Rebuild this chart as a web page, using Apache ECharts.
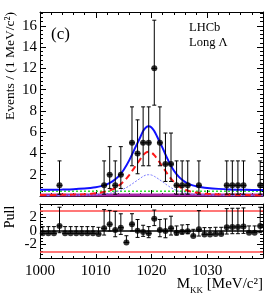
<!DOCTYPE html>
<html>
<head>
<meta charset="utf-8">
<script src="https://cdn.jsdelivr.net/npm/echarts@6/dist/echarts.min.js"></script>
<style>
html,body{margin:0;padding:0;background:#fff;}
#c{width:279px;height:294px;}
</style>
</head>
<body>
<div id="c"></div>
<script>
// ---- data ----
const curveMass = [1000,1002,1004,1006,1008,1009,1010,1011,1012,1013,1014,1015,1016,1017,1018,1018.5,1019,1019.5,1020,1020.5,1021,1022,1023,1024,1025,1026,1027,1028,1029,1030,1032,1034,1036,1038,1040];
const totalFit = [0.58,0.59,0.61,0.64,0.70,0.75,0.82,0.93,1.10,1.38,1.80,2.45,3.35,4.45,5.55,6.10,6.45,6.56,6.45,6.10,5.60,4.50,3.35,2.40,1.75,1.33,1.07,0.92,0.82,0.75,0.67,0.62,0.59,0.57,0.56];
const phiRed = [0.09,0.095,0.11,0.13,0.17,0.20,0.25,0.33,0.44,0.63,0.92,1.36,1.97,2.72,3.47,3.84,4.08,4.15,4.08,3.84,3.50,2.75,1.97,1.33,0.88,0.60,0.42,0.32,0.25,0.20,0.15,0.12,0.10,0.08,0.075];
const phiBlue = [0.04,0.045,0.05,0.06,0.08,0.10,0.12,0.16,0.21,0.30,0.44,0.66,0.95,1.31,1.67,1.85,1.97,2.00,1.97,1.85,1.69,1.33,0.95,0.64,0.43,0.29,0.20,0.15,0.12,0.10,0.07,0.055,0.045,0.04,0.036];
const bkgGreen = [0.45,0.45,0.45,0.45,0.45,0.45,0.45,0.45,0.45,0.45,0.45,0.45,0.45,0.45,0.45,0.45,0.45,0.45,0.45,0.45,0.45,0.45,0.45,0.45,0.45,0.45,0.45,0.45,0.45,0.45,0.45,0.45,0.45,0.45,0.45];
const bkgMagenta = [0.1,0.1,0.1,0.1,0.1,0.1,0.1,0.1,0.1,0.1,0.1,0.1,0.1,0.1,0.1,0.1,0.1,0.1,0.1,0.1,0.1,0.1,0.1,0.1,0.1,0.1,0.1,0.1,0.1,0.1,0.1,0.1,0.1,0.1,0.1];

const dataMass = [1003.5,1011.5,1012.5,1013.5,1014.5,1016.5,1017.5,1018.5,1019.5,1020.5,1021.5,1022.5,1023.5,1024.5,1025.5,1026.5,1028.5,1033.5,1034.5,1035.5,1036.5,1039.5];
const dataCounts = [1,1,2,1,2,5,4,5,5,12,5,3,3,1,1,1,1,1,1,1,1,1];
const dataErrLo = [0.83,0.83,1.29,0.83,1.29,2.16,1.91,2.16,2.16,3.46,2.16,1.63,1.63,0.83,0.83,0.83,0.83,0.83,0.83,0.83,0.83,0.83];
const dataErrHi = [2.30,2.30,2.64,2.30,2.64,3.38,3.16,3.38,3.38,4.53,3.38,2.92,2.92,2.30,2.30,2.30,2.30,2.30,2.30,2.30,2.30,2.30];

const pullMass = [1000.5,1001.5,1002.5,1003.5,1004.5,1005.5,1006.5,1007.5,1008.5,1009.5,1010.5,1011.5,1012.5,1013.5,1014.5,1015.5,1016.5,1017.5,1018.5,1019.5,1020.5,1021.5,1022.5,1023.5,1024.5,1025.5,1026.5,1027.5,1028.5,1029.5,1030.5,1031.5,1032.5,1033.5,1034.5,1035.5,1036.5,1037.5,1038.5,1039.5];
const pullVals = [-0.35,-0.35,-0.35,0.75,-0.35,-0.35,-0.35,-0.35,-0.35,-0.35,-0.45,0.4,1.0,0.15,0.5,-1.7,1.0,0.05,-0.15,-0.35,1.8,0.15,0.0,0.4,-0.25,-0.1,-0.05,-0.75,0.25,-0.5,-0.5,-0.45,-0.45,0.55,0.6,0.6,0.65,-0.25,-0.25,0.75];
const pullErrLo = [0,0,0,1,0,0,0,0,0,0,0,1,1,1,1,0,1,1,0.64,0.64,1,1,1,1,0.36,0.36,0.36,0,1,0,0,0,0,1,1,1,1,0,0,1];
const pullErrHi = [1,1,1,2.77,1,1,1,1,1,1,1,2.77,2.05,2.77,2.05,1,1.56,1.65,1,1,1.31,1.56,1.79,1.79,1,1,1,1,2.77,1,1,1,1,2.77,2.77,2.77,2.77,1,1,2.77];
const pullRefLines = [3, 0, -3];

const xTicks = [1000, 1010, 1020, 1030];
const yTicksMain = [2, 4, 6, 8, 10, 12, 14, 16];
const yTicksPull = [-2, 0, 2];

// ---- chart ----
const FONT = 'Liberation Serif';
const zip = (a, b) => a.map((v, i) => [v, b[i]]);

function axisBase(extra) {
  return Object.assign({
    axisLine: {show: true, onZero: false, lineStyle: {color: '#000', width: 1}},
    axisTick: {show: true, inside: true, length: 6, lineStyle: {color: '#000', width: 1}},
    minorTick: {show: true, splitNumber: 5, length: 3, lineStyle: {color: '#000', width: 1}},
    splitLine: {show: false},
    minorSplitLine: {show: false}
  }, extra);
}

const labelStyle = {fontFamily: FONT, fontSize: 15, color: '#000'};

function errRender(params, api) {
  const x = api.value(0), y = api.value(1), lo = api.value(2), hi = api.value(3);
  const top = api.coord([x, y + hi]);
  const bot = api.coord([x, y - lo]);
  const l = api.coord([x - 0.5, y]);
  const r = api.coord([x + 0.5, y]);
  const st = {stroke: '#000', lineWidth: 1};
  const ch = [
    {type: 'line', shape: {x1: top[0], y1: top[1], x2: bot[0], y2: bot[1]}, style: st},
    {type: 'line', shape: {x1: l[0], y1: l[1], x2: r[0], y2: r[1]}, style: st}
  ];
  if (hi > 0) ch.push({type: 'line', shape: {x1: top[0] - 2, y1: top[1], x2: top[0] + 2, y2: top[1]}, style: st});
  if (lo > 0) ch.push({type: 'line', shape: {x1: bot[0] - 2, y1: bot[1], x2: bot[0] + 2, y2: bot[1]}, style: st});
  return {type: 'group', children: ch};
}

const chart = echarts.init(document.getElementById('c'), null, {renderer: 'canvas'});
chart.setOption({
  animation: false,
  backgroundColor: '#fff',
  grid: [
    {left: 40, top: 12, width: 223, height: 184},
    {left: 40, top: 204, width: 223, height: 54}
  ],
  xAxis: [
    axisBase({type: 'value', gridIndex: 0, position: 'bottom', min: 1000, max: 1040, interval: 10, axisLabel: {show: false}}),
    axisBase({type: 'value', gridIndex: 0, position: 'top', min: 1000, max: 1040, interval: 10, axisLabel: {show: false}}),
    axisBase({type: 'value', gridIndex: 1, position: 'bottom', min: 1000, max: 1040, interval: 10,
      axisTick: {show: true, inside: true, length: 4, lineStyle: {color: '#000'}},
      minorTick: {show: true, splitNumber: 5, length: 2, lineStyle: {color: '#000'}},
      axisLabel: Object.assign({show: true, margin: 6, formatter: v => xTicks.includes(v) ? String(v) : ''}, labelStyle)}),
    axisBase({type: 'value', gridIndex: 1, position: 'top', min: 1000, max: 1040, interval: 10,
      axisTick: {show: true, inside: true, length: 4, lineStyle: {color: '#000'}},
      minorTick: {show: true, splitNumber: 5, length: 2, lineStyle: {color: '#000'}},
      axisLabel: {show: false}})
  ],
  yAxis: [
    axisBase({type: 'value', gridIndex: 0, position: 'left', min: 0, max: 17.3, interval: 2,
      axisLabel: Object.assign({show: true, margin: 3, showMaxLabel: false, formatter: v => yTicksMain.includes(v) ? String(v) : ''}, labelStyle)}),
    axisBase({type: 'value', gridIndex: 0, position: 'right', min: 0, max: 17.3, interval: 2, axisLabel: {show: false}}),
    axisBase({type: 'value', gridIndex: 1, position: 'left', min: -4, max: 4, interval: 2,
      minorTick: {show: true, splitNumber: 4, length: 3, lineStyle: {color: '#000'}},
      axisLabel: Object.assign({show: true, margin: 3, formatter: v => yTicksPull.includes(v) ? String(v) : ''}, labelStyle)}),
    axisBase({type: 'value', gridIndex: 1, position: 'right', min: -4, max: 4, interval: 2,
      minorTick: {show: true, splitNumber: 4, length: 3, lineStyle: {color: '#000'}},
      axisLabel: {show: false}})
  ],
  series: [
    {type: 'line', xAxisIndex: 0, yAxisIndex: 0, data: zip(curveMass, bkgGreen), showSymbol: false,
      lineStyle: {color: '#33dd33', width: 1.5, type: [2, 2]}, z: 2},
    {type: 'line', xAxisIndex: 0, yAxisIndex: 0, data: zip(curveMass, bkgMagenta), showSymbol: false,
      lineStyle: {color: '#a626a6', width: 3}, z: 2},
    {type: 'line', xAxisIndex: 0, yAxisIndex: 0, data: zip(curveMass, phiBlue), showSymbol: false, smooth: 0.35,
      lineStyle: {color: '#7b7bff', width: 1, type: [2, 1.5]}, z: 3},
    {type: 'line', xAxisIndex: 0, yAxisIndex: 0, data: zip(curveMass, phiRed), showSymbol: false, smooth: 0.35,
      lineStyle: {color: '#ff1a1a', width: 2, type: [6, 4]}, z: 3},
    {type: 'line', xAxisIndex: 0, yAxisIndex: 0, data: zip(curveMass, totalFit), showSymbol: false, smooth: 0.35,
      lineStyle: {color: '#1010ff', width: 2}, z: 4},
    {type: 'custom', xAxisIndex: 0, yAxisIndex: 0, renderItem: errRender, z: 5,
      data: dataMass.map((m, i) => [m, dataCounts[i], dataErrLo[i], dataErrHi[i]])},
    {type: 'scatter', xAxisIndex: 0, yAxisIndex: 0, data: zip(dataMass, dataCounts), symbol: 'circle', symbolSize: 6,
      itemStyle: {color: '#000'}, z: 6},
    {type: 'custom', xAxisIndex: 2, yAxisIndex: 2, renderItem: errRender, z: 5,
      data: pullMass.map((m, i) => [m, pullVals[i], pullErrLo[i], pullErrHi[i]])},
    {type: 'scatter', xAxisIndex: 2, yAxisIndex: 2, data: zip(pullMass, pullVals), symbol: 'circle', symbolSize: 6,
      itemStyle: {color: '#000'}, z: 6,
      markLine: {silent: true, symbol: 'none', label: {show: false},
        data: pullRefLines.map(v => ({yAxis: v, lineStyle: {color: v === 0 ? '#000' : '#ff4a4a', width: 1.5, type: 'solid'}}))}}
  ],
  graphic: [
    {type: 'text', x: 10, y: 12, rotation: Math.PI / 2,
      style: {text: 'Events / (1 MeV/c²)', fontFamily: FONT, fontSize: 13.5, fill: '#000', align: 'right', verticalAlign: 'middle'}},
    {type: 'text', x: 10, y: 217, rotation: Math.PI / 2,
      style: {text: 'Pull', fontFamily: FONT, fontSize: 14, fill: '#000', align: 'center', verticalAlign: 'middle'}},
    {type: 'text', x: 263, y: 284,
      style: {text: '{m|M}{s|KK}{m| [MeV/c²]}', fontFamily: FONT, fill: '#000', align: 'right', verticalAlign: 'middle',
        rich: {m: {fontFamily: FONT, fontSize: 15, fill: '#000', lineHeight: 16},
               s: {fontFamily: FONT, fontSize: 9, fill: '#000', verticalAlign: 'bottom', lineHeight: 16, padding: [0, 0, -3, 0]}}}},
    {type: 'text', x: 51, y: 35,
      style: {text: '(c)', fontFamily: FONT, fontSize: 17, fill: '#000', align: 'left', verticalAlign: 'middle'}},
    {type: 'text', x: 189, y: 28,
      style: {text: 'LHCb', fontFamily: FONT, fontSize: 12.5, fill: '#000', align: 'left', verticalAlign: 'middle'}},
    {type: 'text', x: 189, y: 43,
      style: {text: 'Long Λ', fontFamily: FONT, fontSize: 12.5, fill: '#000', align: 'left', verticalAlign: 'middle'}}
  ]
});
</script>
</body>
</html>
